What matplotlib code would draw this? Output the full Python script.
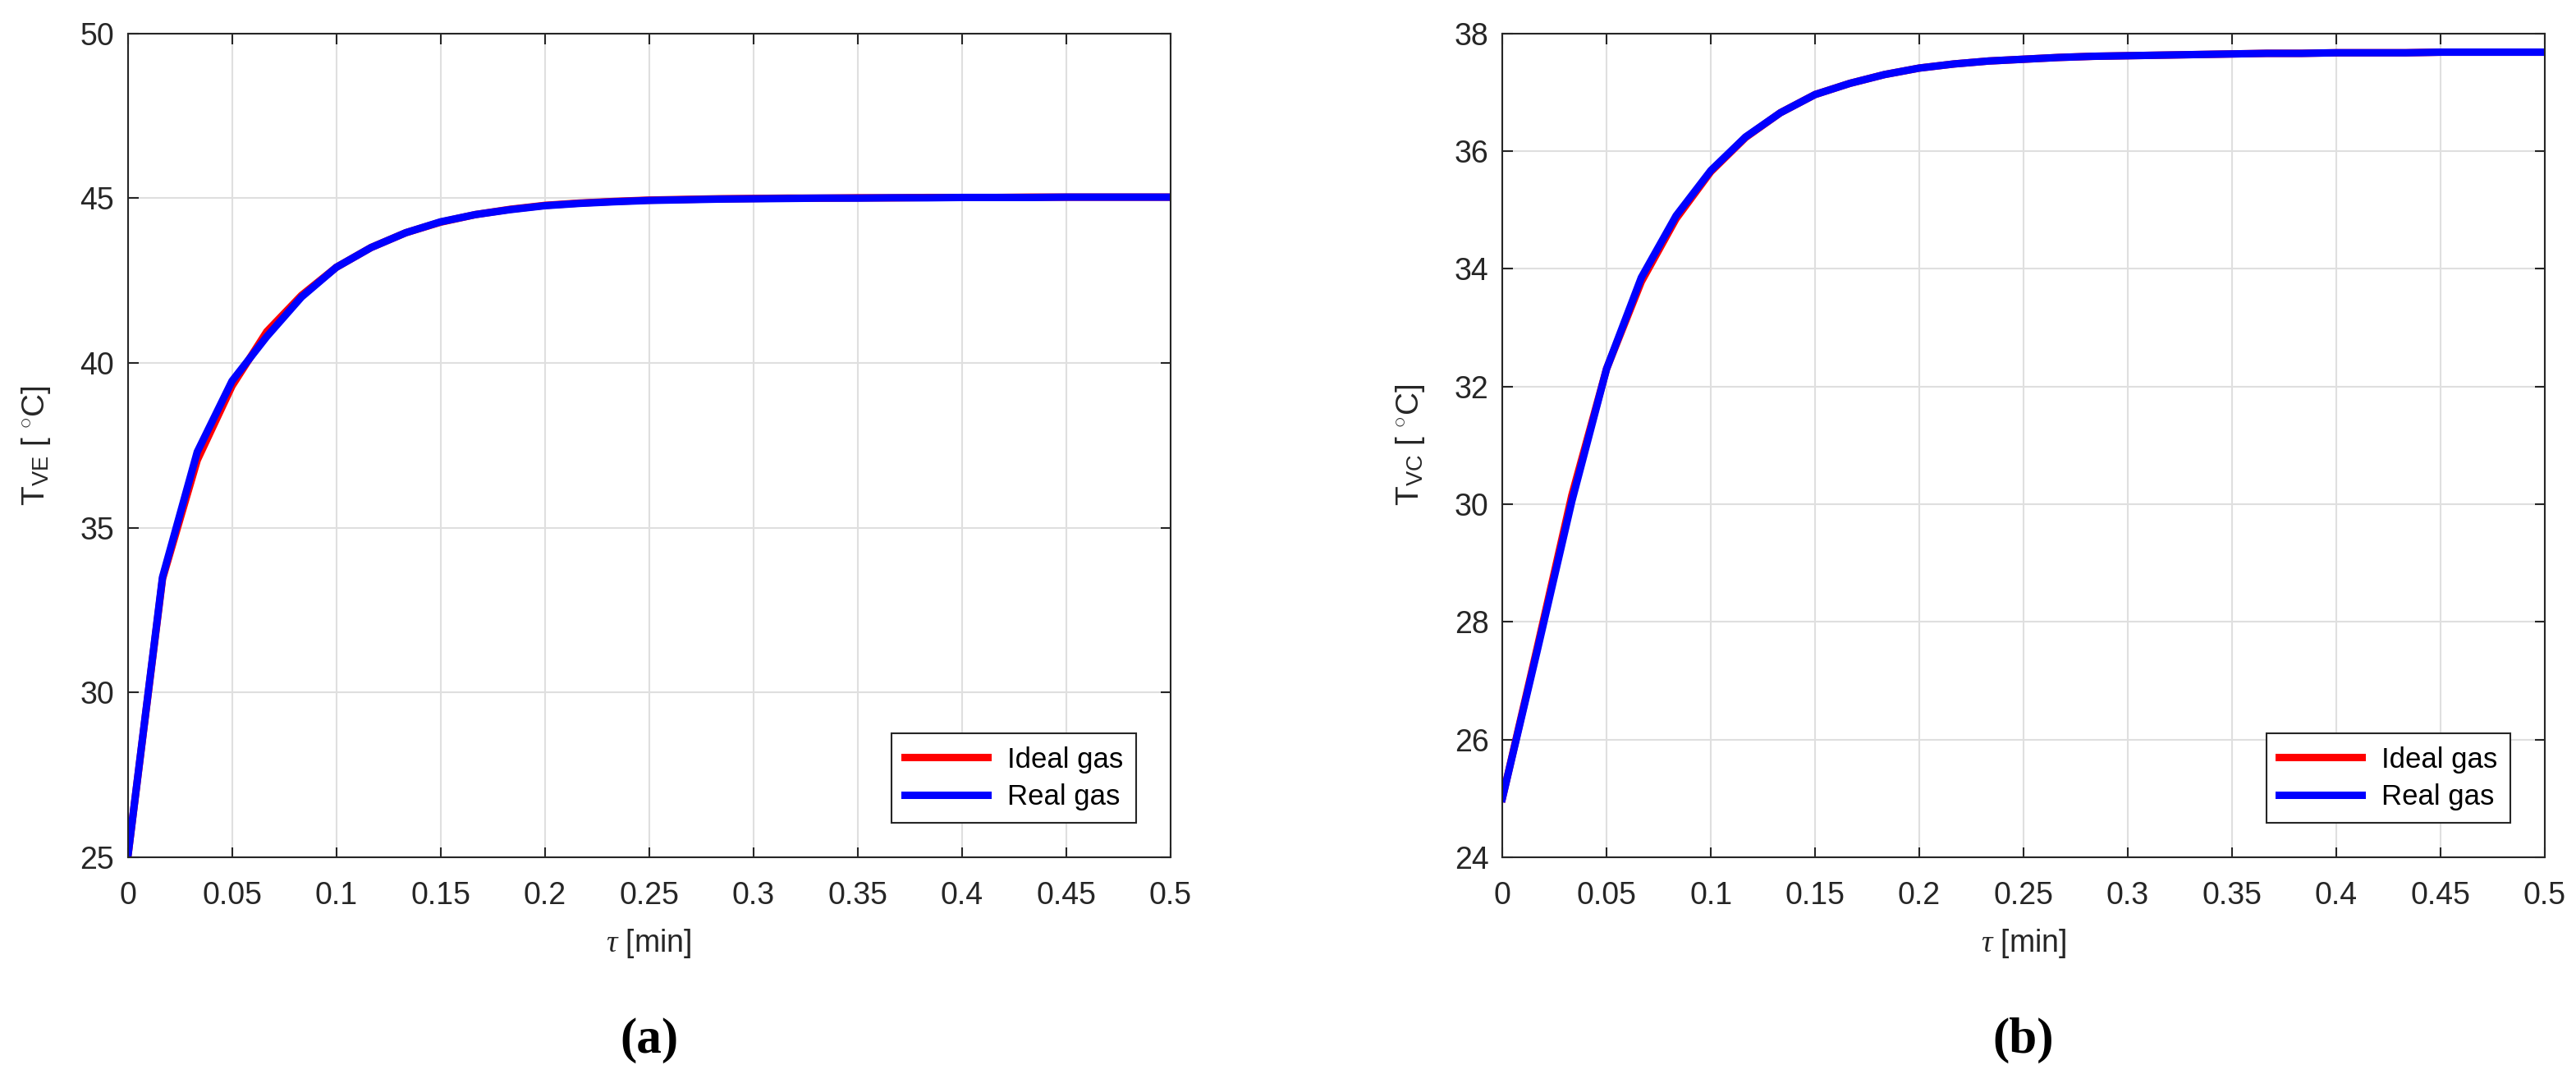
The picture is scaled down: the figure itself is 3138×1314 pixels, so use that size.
import numpy as np
import matplotlib
matplotlib.use("Agg")
import matplotlib.pyplot as plt

plt.rcParams['font.family'] = ['Liberation Sans', 'DejaVu Sans']
plt.rcParams['mathtext.fontset'] = 'custom'
plt.rcParams['mathtext.it'] = 'Liberation Serif:italic'
plt.rcParams['mathtext.rm'] = 'Liberation Sans'

# time samples in seconds, plotted in minutes
t_sec = np.arange(0, 31)
tau = t_sec / 60.0

# (a) vapour temperature in evaporator
T_ve_ideal = [25.0, 33.45, 37.05, 39.3, 40.95, 42.05, 42.9, 43.5, 43.95, 44.27,
              44.5, 44.66, 44.78, 44.85, 44.9, 44.94, 44.96, 44.98, 44.99, 45.0,
              45.0, 45.01, 45.01, 45.02, 45.02, 45.02, 45.03, 45.03, 45.03, 45.03, 45.03]
T_ve_real = [25.0, 33.5, 37.3, 39.45, 40.8, 42.0, 42.9, 43.5, 43.95, 44.28,
             44.5, 44.65, 44.77, 44.84, 44.89, 44.93, 44.95, 44.97, 44.98, 44.99,
             45.0, 45.0, 45.01, 45.01, 45.02, 45.02, 45.02, 45.03, 45.03, 45.03, 45.03]

# (b) vapour temperature in condenser
T_vc_ideal = [25.0, 27.55, 30.15, 32.3, 33.78, 34.85, 35.65, 36.23, 36.65, 36.96,
              37.15, 37.3, 37.41, 37.48, 37.53, 37.56, 37.59, 37.61, 37.62, 37.63,
              37.64, 37.65, 37.66, 37.66, 37.67, 37.67, 37.67, 37.68, 37.68, 37.68, 37.68]
T_vc_real = [25.0, 27.5, 30.05, 32.3, 33.85, 34.9, 35.67, 36.24, 36.65, 36.96,
             37.15, 37.3, 37.41, 37.48, 37.53, 37.56, 37.59, 37.61, 37.62, 37.63,
             37.64, 37.65, 37.66, 37.66, 37.67, 37.67, 37.67, 37.68, 37.68, 37.68, 37.68]

xticks = [0, 0.05, 0.1, 0.15, 0.2, 0.25, 0.3, 0.35, 0.4, 0.45, 0.5]
xticklabels = ['0', '0.05', '0.1', '0.15', '0.2', '0.25', '0.3', '0.35', '0.4', '0.45', '0.5']

dark = '#262626'

fig = plt.figure(figsize=(31.38, 13.14), dpi=100)
ax1 = fig.add_axes([0.0496, 0.2055, 0.4047, 0.7636])
ax2 = fig.add_axes([0.5832, 0.2055, 0.4047, 0.7636])

panels = [
    (ax1, T_ve_ideal, T_ve_real, [25, 50], np.arange(25, 51, 5), r'T$_{\mathrm{VE}}$ [ $^{\circ}$C]', '(a)'),
    (ax2, T_vc_ideal, T_vc_real, [24, 38], np.arange(24, 39, 2), r'T$_{\mathrm{VC}}$ [ $^{\circ}$C]', '(b)'),
]

for ax, ideal, real, ylim, yticks, ylab, tag in panels:
    ax.plot(tau, ideal, color='red', lw=6.5, label='Ideal gas', solid_joinstyle='miter')
    ax.plot(tau, real, color='blue', lw=6.5, label='Real gas', solid_joinstyle='miter')
    ax.set_xlim(0, 0.5)
    ax.set_ylim(ylim)
    ax.set_xticks(xticks)
    ax.set_xticklabels(xticklabels)
    ax.set_yticks(yticks)
    ax.grid(True, color='#dfdfdf', lw=1.5)
    ax.set_axisbelow(True)
    for s in ax.spines.values():
        s.set_color(dark)
        s.set_linewidth(1.5)
    ax.tick_params(direction='in', length=9, width=1.5, colors=dark,
                   labelsize=27, pad=12, top=True, right=True)
    ax.tick_params(axis='x', pad=21)
    ax.set_xlabel(r'$\mathit{\tau}$ [min]', fontsize=27, color=dark, labelpad=14)
    ax.set_ylabel(ylab, fontsize=28, color=dark, labelpad=24)
    leg = ax.legend(loc='lower right', fontsize=25, fancybox=False, framealpha=1,
                    edgecolor=dark, handlelength=2.9, borderaxespad=1.2,
                    handletextpad=0.7, borderpad=0.45, labelspacing=0.35)
    leg.get_frame().set_linewidth(1.5)
    for h in leg.get_lines():
        h.set_linewidth(6.5)
    ax.text(0.5, -0.222, tag, transform=ax.transAxes, ha='center', va='center',
            fontsize=44, fontweight='bold', family='Liberation Serif', color='black')

fig.savefig('out.png', dpi=100)
